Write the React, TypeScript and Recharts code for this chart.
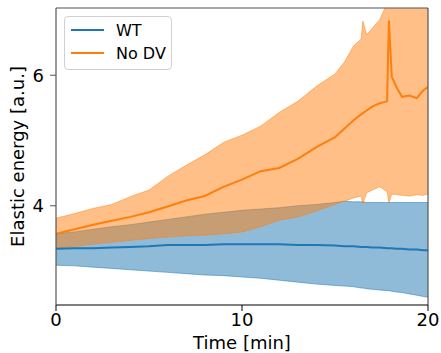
import {
  ComposedChart, Area, Line, XAxis, YAxis, ReferenceLine,
} from "recharts";

const BLUE   = "#1f77b4";
const ORANGE = "#ff7f0e";
const FONT   = "'DejaVu Sans', 'Liberation Sans', sans-serif";

// time in minutes (denser around the spikes near the end)
const TIME = [0, 1, 2, 3, 4, 5, 6, 7, 8, 9, 10, 11, 12, 13, 14, 15,
  15.5, 16, 16.4, 16.5, 16.7, 17, 17.4, 17.8, 17.9, 18.05, 18.3, 18.6, 19, 19.4, 19.75, 20];

const WT_MEAN = [3.34, 3.35, 3.35, 3.36, 3.37, 3.38, 3.40, 3.40, 3.40, 3.41, 3.41, 3.41, 3.41, 3.40, 3.40, 3.39,
  3.38, 3.38, 3.37, 3.37, 3.37, 3.36, 3.36, 3.35, 3.35, 3.35, 3.34, 3.34, 3.33, 3.33, 3.32, 3.32];
const WT_LO = [3.09, 3.08, 3.06, 3.04, 3.02, 3.00, 2.98, 2.96, 2.94, 2.93, 2.91, 2.89, 2.86, 2.83, 2.80, 2.78,
  2.77, 2.76, 2.74, 2.74, 2.73, 2.72, 2.71, 2.70, 2.70, 2.69, 2.68, 2.67, 2.65, 2.63, 2.61, 2.60];
const WT_HI = [3.57, 3.60, 3.64, 3.68, 3.71, 3.75, 3.79, 3.83, 3.87, 3.90, 3.93, 3.95, 3.97, 4.00, 4.02, 4.05,
  4.07, 4.06, 4.06, 4.06, 4.05, 4.05, 4.05, 4.05, 4.05, 4.05, 4.05, 4.05, 4.05, 4.05, 4.05, 4.05];

const NODV_MEAN = [3.57, 3.64, 3.71, 3.77, 3.83, 3.90, 3.99, 4.08, 4.15, 4.29, 4.40, 4.53, 4.58, 4.72, 4.90, 5.05,
  5.18, 5.31, 5.40, 5.42, 5.46, 5.52, 5.57, 5.60, 6.84, 5.98, 5.82, 5.67, 5.69, 5.65, 5.77, 5.82];
const NODV_LO = [3.35, 3.38, 3.41, 3.44, 3.47, 3.50, 3.52, 3.54, 3.55, 3.57, 3.60, 3.68, 3.78, 3.83, 3.92, 4.02,
  4.07, 4.12, 4.15, 4.03, 4.20, 4.24, 4.29, 4.22, 4.04, 4.18, 4.17, 4.16, 4.15, 4.17, 4.16, 4.18];
const NODV_HI = [3.81, 3.88, 3.96, 4.02, 4.14, 4.24, 4.45, 4.62, 4.78, 4.97, 5.08, 5.22, 5.43, 5.60, 5.83, 6.02,
  6.20, 6.45, 6.55, 6.83, 6.62, 6.72, 6.85, 7.10, 8.00, 7.80, 7.50, 7.30, 7.30, 7.20, 7.40, 7.45];

const X_TICKS = [0, 10, 20];
const Y_TICKS = [4, 6];
const Y_MIN = 2.48;
const Y_MAX = 7.03;

const data = TIME.map((t, i) => ({
  t,
  wtMean: WT_MEAN[i],
  wtBand: [WT_LO[i], WT_HI[i]],
  nodvMean: NODV_MEAN[i],
  nodvBand: [NODV_LO[i], NODV_HI[i]],
}));

function LegendBox() {
  const row = (color: string, label: string, top: number) => (
    <div style={{ position: "absolute", left: 6, top: top - 10, height: 20, display: "flex", alignItems: "center" }}>
      <div style={{ width: 33, height: 2, background: color }} />
      <span style={{ marginLeft: 12, fontSize: 16, color: "#000" }}>{label}</span>
    </div>
  );
  return (
    <div style={{
      position: "absolute", left: 64, top: 16, width: 106, height: 52,
      border: "1px solid #d0d0d0", borderRadius: 4, background: "rgba(255,255,255,0.8)",
      fontFamily: FONT,
    }}>
      {row(BLUE, "WT", 13)}
      {row(ORANGE, "No DV", 36)}
    </div>
  );
}

export default function App() {
  const tick = { fill: "#000", fontSize: 18, fontFamily: FONT };
  return (
    <div style={{ position: "absolute", left: 0, top: 0, width: 441, height: 353, background: "#fff" }}>
      <ComposedChart width={441} height={353} data={data} margin={{ top: 8, right: 13, left: 0, bottom: 0 }}>
        <XAxis
          dataKey="t" type="number" domain={[0, 20]} ticks={X_TICKS} allowDataOverflow
          height={48} tick={tick} tickSize={6} tickMargin={2}
          stroke="#000" tickLine={{ stroke: "#000" }} axisLine={{ stroke: "#000", strokeWidth: 1.2 }}
          label={{ value: "Time [min]", position: "insideBottom", offset: 4, style: { fill: "#000", fontSize: 18, fontFamily: FONT } }}
        />
        <YAxis
          type="number" domain={[Y_MIN, Y_MAX]} ticks={Y_TICKS} allowDataOverflow
          width={56} tick={tick} tickSize={6} tickMargin={6}
          tickLine={{ stroke: "#555" }} axisLine={{ stroke: "#555", strokeWidth: 1.2 }}
          label={{ value: "Elastic energy [a.u.]", angle: -90, position: "insideLeft", offset: 18, style: { fill: "#000", fontSize: 18, fontFamily: FONT, textAnchor: "middle" } }}
        />
        <Area type="linear" dataKey="wtBand" fill={BLUE} fillOpacity={0.5} stroke={BLUE} strokeOpacity={0.5} strokeWidth={1} isAnimationActive={false} dot={false} activeDot={false} />
        <Area type="linear" dataKey="nodvBand" fill={ORANGE} fillOpacity={0.5} stroke={ORANGE} strokeOpacity={0.5} strokeWidth={1} isAnimationActive={false} dot={false} activeDot={false} />
        <Line type="linear" dataKey="wtMean" stroke={BLUE} strokeWidth={2} dot={false} isAnimationActive={false} />
        <Line type="linear" dataKey="nodvMean" stroke={ORANGE} strokeWidth={2} dot={false} isAnimationActive={false} />
        <ReferenceLine y={Y_MAX} stroke="#555" strokeWidth={1.2} />
        <ReferenceLine x={20} stroke="#555" strokeWidth={1.2} />
      </ComposedChart>
      <LegendBox />
    </div>
  );
}
